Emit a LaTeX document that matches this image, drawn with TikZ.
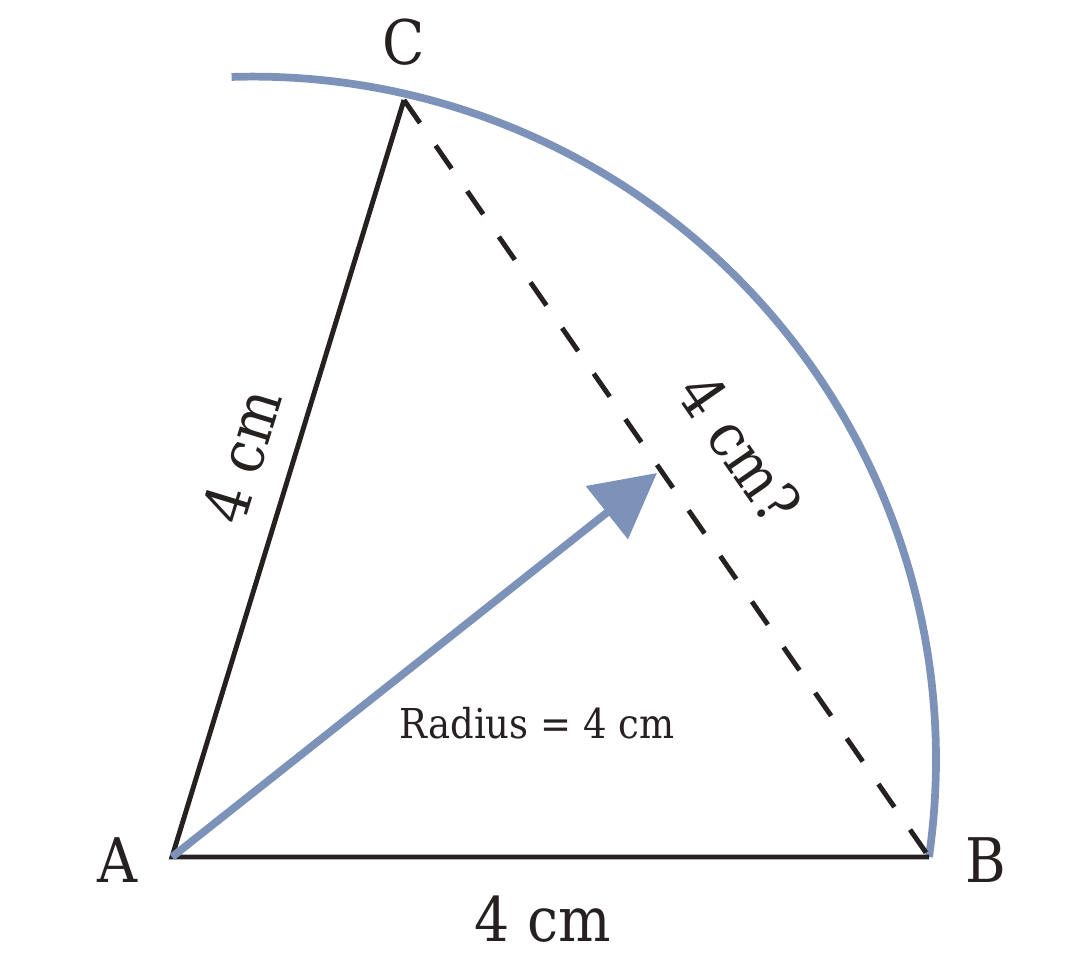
\documentclass[tikz,border=0pt]{standalone}
\usepackage{fontspec}
\setmainfont{DejaVu Serif Condensed}
\usetikzlibrary{arrows.meta}
\definecolor{inkblack}{RGB}{38,33,33}
\definecolor{radblue}{RGB}{125,146,185}

\begin{document}
\begin{tikzpicture}[-,>={Triangle[length=0.64cm,width=0.66cm]},
        side/.style={draw=inkblack, line width=1.4pt},
        chord/.style={draw=inkblack, line width=1.4pt, dash pattern=on 0.28cm off 0.275cm},
        radline/.style={draw=radblue, line width=2.2pt},
        biglabel/.style={text=inkblack, inner sep=0pt, font=\fontsize{17.5}{20}\selectfont},
        smalllabel/.style={text=inkblack, inner sep=0pt, font=\fontsize{11.7}{14}\selectfont}]
        \useasboundingbox (-1.72,-1.19) rectangle (9.07,8.57);

        \coordinate (A) at (0,0);
        \coordinate (B) at (7.57,0);
        \coordinate (C) at (2.32,7.57);
        \coordinate (tip) at (4.85,3.84);

        \node at (-0.55,-0.035) [biglabel] (labA) {A};
        \node at (8.135,-0.03) [biglabel] (labB) {B};
        \node at (2.32,8.15) [biglabel] (labC) {C};

        \node at (3.71,-0.625) [biglabel] (labAB) {4 cm};
        \node at (0.70,4.01) [biglabel, rotate=72.96] (labAC) {4 cm};
        \node at (5.68,4.085) [biglabel, rotate=-55.26] (labBC) {4 cm?};
        \node at (3.65,1.34) [smalllabel] (labR) {Radius = 4 cm};

        % arc round the triangle, then the sides
        \draw[radline] (B) arc[start angle=-8.2, end angle=91.8, radius=6.83];
        \draw[side] (C) -- (A) -- (B);
        \draw[chord] (C) -- (B);
        \draw[radline, ->] (A) -- (tip);
    \end{tikzpicture}
\end{document}
